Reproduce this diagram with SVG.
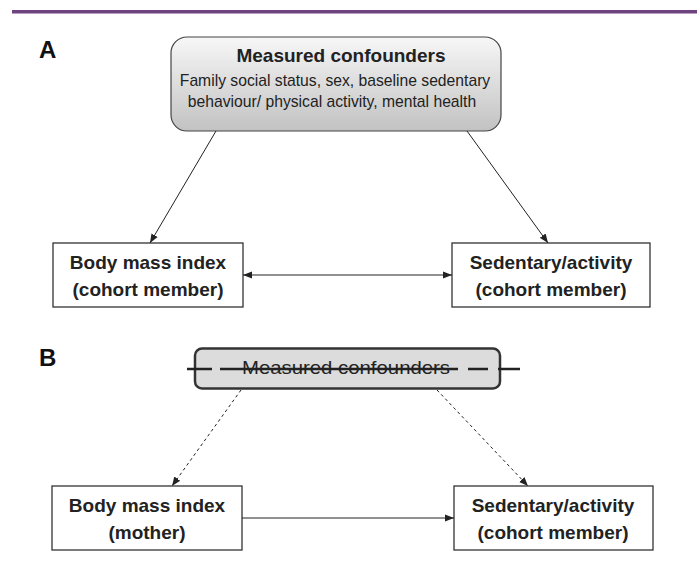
<svg xmlns="http://www.w3.org/2000/svg" width="697" height="579" viewBox="0 0 697 579">
<defs>
<linearGradient id="gA" x1="0" y1="0" x2="0" y2="1">
<stop offset="0" stop-color="#f7f7f7"/>
<stop offset="1" stop-color="#c2c2c2"/>
</linearGradient>
<marker id="ah" viewBox="0 0 10 10" refX="10" refY="5" markerWidth="9" markerHeight="9" markerUnits="userSpaceOnUse" orient="auto-start-reverse">
<path d="M0,1 L10,5 L0,9 Z" fill="#222"/>
</marker>
</defs>
<style>
.bx{fill:#fff;stroke:#333;stroke-width:1.3}
.lb{font-family:"Liberation Sans",Arial,sans-serif;font-weight:bold;font-size:19px;fill:#222;text-anchor:middle}
.tx{font-family:"Liberation Sans",Arial,sans-serif;font-size:15.7px;fill:#222;text-anchor:middle}
.ln{stroke:#222;stroke-width:1;fill:none}
.dl{stroke:#222;stroke-width:1;fill:none;stroke-dasharray:3 3}
.pl{font-family:"Liberation Sans",Arial,sans-serif;font-weight:bold;font-size:24px;fill:#111}
</style>
<rect x="12" y="10" width="685" height="3.5" fill="#6e437f"/>
<text class="pl" x="39" y="58">A</text>
<text class="pl" x="39" y="366">B</text>
<g id="confA">
<rect x="171" y="37" width="330" height="94" rx="16" fill="url(#gA)" stroke="#444" stroke-width="1.2"/>
<text class="lb" x="341" y="62">Measured confounders</text>
<text class="tx" x="335" y="86">Family social status, sex, baseline sedentary</text>
<text class="tx" x="332" y="107">behaviour/ physical activity, mental health</text>
</g>
<g id="bmiA">
<rect class="bx" x="53" y="243" width="190" height="64"/>
<text class="lb" x="148" y="269">Body mass index</text>
<text class="lb" x="148" y="296">(cohort member)</text>
</g>
<g id="sedA">
<rect class="bx" x="452" y="243" width="198" height="64"/>
<text class="lb" x="551" y="269">Sedentary/activity</text>
<text class="lb" x="551" y="296">(cohort member)</text>
</g>
<g id="confB">
<rect x="195" y="348.5" width="305" height="40" rx="7" fill="#dcdcdd" stroke="#333" stroke-width="2.5"/>
<text x="346" y="374" font-family="'Liberation Sans',Arial,sans-serif" font-size="19" fill="#222" text-anchor="middle" textLength="208" lengthAdjust="spacingAndGlyphs">Measured confounders</text>
<g stroke="#222" stroke-width="2.5">
<line x1="187" y1="369" x2="212" y2="369"/>
<line x1="220" y1="369" x2="458" y2="369"/>
<line x1="468" y1="369" x2="488" y2="369"/>
<line x1="498" y1="369" x2="520" y2="369"/>
</g>
</g>
<g id="bmiB">
<rect class="bx" x="52" y="486" width="190" height="64"/>
<text class="lb" x="147" y="512">Body mass index</text>
<text class="lb" x="147" y="539">(mother)</text>
</g>
<g id="sedB">
<rect class="bx" x="454" y="486" width="199" height="64"/>
<text class="lb" x="553" y="512">Sedentary/activity</text>
<text class="lb" x="553" y="539">(cohort member)</text>
</g>
<g id="connectors">
<line class="ln" x1="216" y1="131" x2="150" y2="243" marker-end="url(#ah)"/>
<line class="ln" x1="467" y1="131" x2="548" y2="243" marker-end="url(#ah)"/>
<line class="ln" x1="243" y1="275" x2="452" y2="275" marker-start="url(#ah)" marker-end="url(#ah)"/>
<line class="dl" x1="241" y1="390" x2="172" y2="486" marker-end="url(#ah)"/>
<line class="dl" x1="437" y1="390" x2="528" y2="486" marker-end="url(#ah)"/>
<line class="ln" x1="242" y1="518" x2="454" y2="518" marker-end="url(#ah)"/>
</g>
</svg>
